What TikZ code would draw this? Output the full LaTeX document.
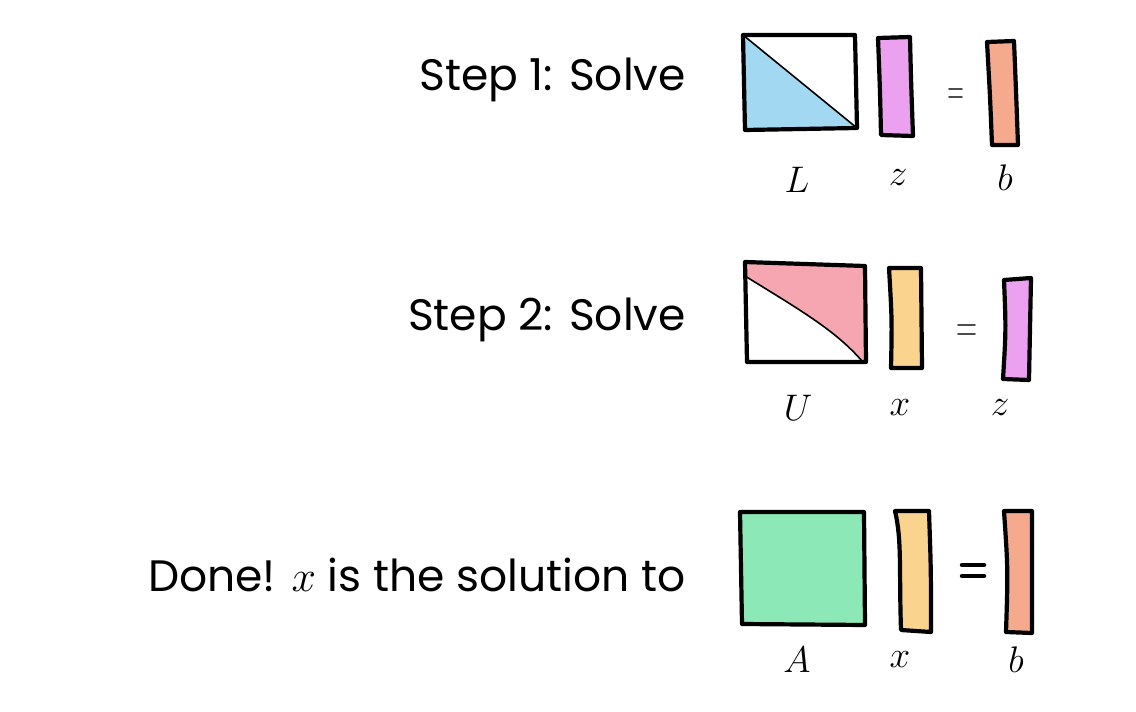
\RequirePackage{fix-cm}
\documentclass[tikz,border=0pt]{standalone}
\usepackage{fontspec}
\newfontfamily\hand{Poppins}
\definecolor{blueF}{RGB}{162,216,241}
\definecolor{violetF}{RGB}{236,160,240}
\definecolor{salmonF}{RGB}{245,170,142}
\definecolor{pinkF}{RGB}{245,166,176}
\definecolor{yellowF}{RGB}{250,211,142}
\definecolor{greenF}{RGB}{140,232,182}
\begin{document}
\begin{tikzpicture}[x=1pt,y=-1pt,line join=round,line cap=round]
\useasboundingbox (0,0) rectangle (1136,712);
\tikzset{
  frame/.style={draw=black,line width=4.2pt},
  diag/.style={draw=black,line width=1.6pt},
  lbl/.style={font=\fontsize{37}{37}\selectfont,inner sep=0pt},
  caption/.style={font=\hand\fontsize{44}{44}\selectfont,anchor=east,inner sep=0pt},
  eqthin/.style={draw=black!70,line width=1.6pt},
  eqbold/.style={draw=black,line width=4.5pt}
}
% ---------- Row 1 ----------
\node[caption] (s1) at (686,80) {Step 1: Solve};
\fill[blueF] (743,35) -- (744,130) -- (857,128) -- cycle;
\draw[diag] (743,35) -- (857,128);
\draw[frame] (743,35) -- (855,35) -- (857,128) -- (745,130) -- cycle;
\filldraw[frame,fill=violetF] (878,38) -- (910,37) .. controls (911,80) .. (913,136) -- (881,135) .. controls (880,90) .. (878,38) -- cycle;
\draw[eqthin] (949,89) -- (962,89) (949,97) -- (962,97);
\filldraw[frame,fill=salmonF] (987,42) -- (1014,41) .. controls (1016,90) .. (1018,145) -- (992,145) .. controls (990,95) .. (987,42) -- cycle;
\node[lbl] (lL) at (797,180) {$L$};
\node[lbl] (lz1) at (898,178) {$z$};
\node[lbl] (lb1) at (1005,178) {$b$};
% ---------- Row 2 ----------
\node[caption] (s2) at (686,320) {Step 2: Solve};
\fill[pinkF] (745,262) -- (865,266) -- (864,362) .. controls (835,330) and (800,310) .. (745,276) -- cycle;
\draw[diag] (745,276) .. controls (800,310) and (835,330) .. (862,361);
\draw[frame] (745,262) -- (865,266) -- (866,362) -- (747,362) -- cycle;
\filldraw[frame,fill=yellowF] (889,268) -- (921,268) -- (922,368) -- (891,368) .. controls (892,320) .. (889,268) -- cycle;
\draw[eqthin] (958,325) -- (975,325) (958,334) -- (975,334);
\filldraw[frame,fill=violetF] (1004,280) -- (1031,278) -- (1029,380) -- (1003,379) .. controls (1006,330) .. (1004,280) -- cycle;
\node[lbl] (lU) at (798,408) {$U$};
\node[lbl] (lx1) at (900,408) {$x$};
\node[lbl] (lz2) at (1000,408) {$z$};
% ---------- Row 3 ----------
\node[caption] (s3) at (686,575) {Done! $x$ is the solution to};
\filldraw[frame,fill=greenF] (740,512) -- (864,512) -- (865,625) -- (742,624) -- cycle;
\filldraw[frame,fill=yellowF] (895,511) -- (929,511) .. controls (931,570) .. (931,632) -- (901,630) .. controls (899,570) and (902,540) .. (895,511) -- cycle;
\draw[eqbold] (962,565) -- (984,565) (962,576) -- (984,576);
\filldraw[frame,fill=salmonF] (1004,511) -- (1032,511) -- (1032,633) -- (1006,632) .. controls (1008,570) .. (1004,511) -- cycle;
\node[lbl] (lA) at (797,660) {$A$};
\node[lbl] (lx2) at (900,660) {$x$};
\node[lbl] (lb2) at (1016,660) {$b$};
\end{tikzpicture}
\end{document}
